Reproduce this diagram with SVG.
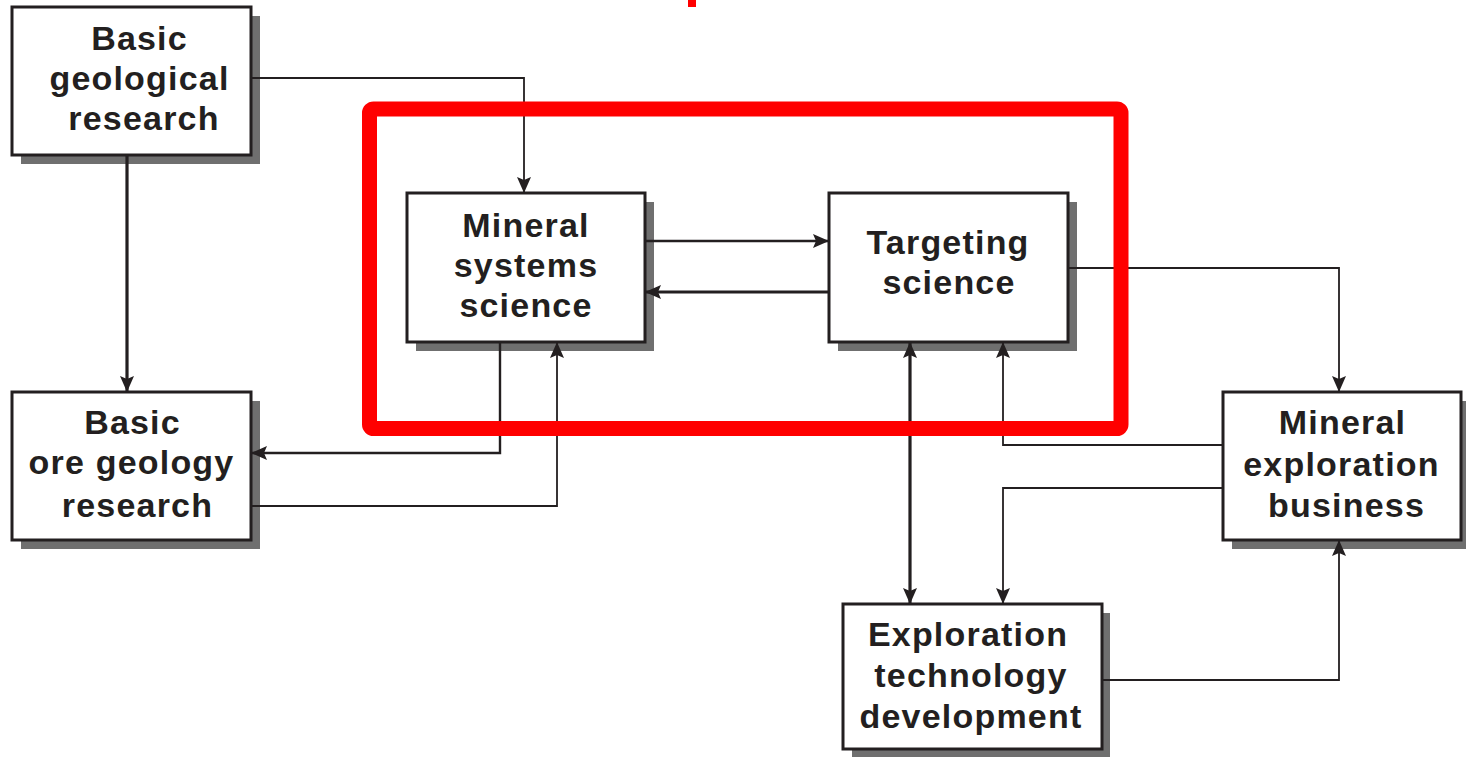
<svg xmlns="http://www.w3.org/2000/svg" width="1466" height="757" viewBox="0 0 1466 757">
  <style>
    .shadow { fill: #6f6f6f; }
    .box { fill: #ffffff; stroke: #231f20; stroke-width: 3; }
    .label { font-family: "Liberation Sans", Arial, Helvetica, sans-serif; font-weight: bold; font-size: 34px; letter-spacing: 1.2px; fill: #231f20; text-anchor: middle; }
    .conn { fill: none; stroke: #231f20; stroke-linejoin: miter; }
    .thin { stroke-width: 1.8; }
    .mid { stroke-width: 2.4; }
    .thick { stroke-width: 3.2; }
    .focus { fill: none; stroke: #ff0000; stroke-width: 15; }
  </style>
  <defs>
    <marker id="arrow" markerUnits="userSpaceOnUse" markerWidth="17" markerHeight="15" viewBox="0 -7.5 17 15" refX="16" refY="0" orient="auto-start-reverse">
      <path d="M0,-7 L16,0 L0,7 L3,0 Z" fill="#231f20"/>
    </marker>
  </defs>
  <rect width="1466" height="757" fill="#ffffff"/>

  <g id="basic-geological-research">
    <rect class="shadow" x="21" y="16" width="239" height="148"/>
    <rect class="box" x="12" y="7" width="239" height="148"/>
    <text class="label" x="139.5" y="50">Basic</text>
    <text class="label" x="139.5" y="90">geological</text>
    <text class="label" x="144" y="130">research</text>
  </g>

  <g id="mineral-systems-science">
    <rect class="shadow" x="416" y="202" width="238" height="149"/>
    <rect class="box" x="407" y="193" width="238" height="149"/>
    <text class="label" x="526" y="237">Mineral</text>
    <text class="label" x="526" y="277">systems</text>
    <text class="label" x="526" y="317">science</text>
  </g>

  <g id="targeting-science">
    <rect class="shadow" x="838" y="202" width="239" height="149"/>
    <rect class="box" x="829" y="193" width="239" height="149"/>
    <text class="label" x="948" y="254">Targeting</text>
    <text class="label" x="949" y="294">science</text>
  </g>

  <g id="basic-ore-geology-research">
    <rect class="shadow" x="21" y="401" width="239" height="148"/>
    <rect class="box" x="12" y="392" width="239" height="148"/>
    <text class="label" x="132.5" y="434">Basic</text>
    <text class="label" x="131.5" y="474">ore geology</text>
    <text class="label" x="137.5" y="517">research</text>
  </g>

  <g id="mineral-exploration-business">
    <rect class="shadow" x="1232" y="401" width="238" height="148"/>
    <rect class="box" x="1223" y="392" width="238" height="148"/>
    <text class="label" x="1342.5" y="434">Mineral</text>
    <text class="label" x="1341.5" y="476">exploration</text>
    <text class="label" x="1346.5" y="517">business</text>
  </g>

  <g id="exploration-technology-development">
    <rect class="shadow" x="852" y="613" width="258" height="144"/>
    <rect class="box" x="843" y="604" width="259" height="145"/>
    <text class="label" x="968" y="646">Exploration</text>
    <text class="label" x="971" y="687">technology</text>
    <text class="label" x="971" y="728">development</text>
  </g>

  <g id="connectors">
    <path class="conn thin" d="M251,78 H524 V193" marker-end="url(#arrow)"/>
    <path class="conn thick" d="M127,155 V392" marker-end="url(#arrow)"/>
    <path class="conn mid" d="M645,241 H829" marker-end="url(#arrow)"/>
    <path class="conn thick" d="M829,292 H645" marker-end="url(#arrow)"/>
    <path class="conn mid" d="M500,342 V453 H251" marker-end="url(#arrow)"/>
    <path class="conn thin" d="M251,506 H557 V342" marker-end="url(#arrow)"/>
    <path class="conn thin" d="M1068,268 H1339 V392" marker-end="url(#arrow)"/>
    <path class="conn thick" d="M910,342 V604" marker-start="url(#arrow)" marker-end="url(#arrow)"/>
    <path class="conn thin" d="M1223,445 H1003 V342" marker-end="url(#arrow)"/>
    <path class="conn thin" d="M1223,488 H1003 V604" marker-end="url(#arrow)"/>
    <path class="conn thin" d="M1102,680 H1339 V540" marker-end="url(#arrow)"/>
  </g>

  <g id="highlight">
    <rect class="focus" x="369.5" y="109" width="751.5" height="319.5" rx="4"/>
    <rect x="688" y="0" width="8" height="7" fill="#ff0000"/>
  </g>
</svg>
